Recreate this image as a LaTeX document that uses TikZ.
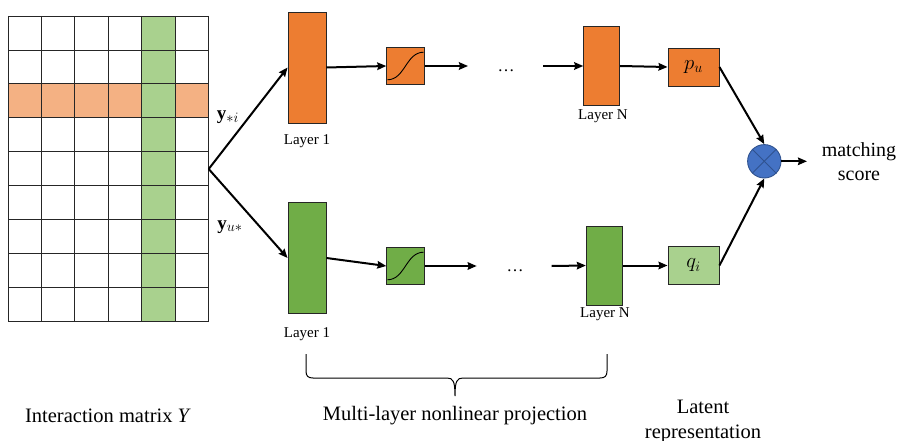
\documentclass[tikz,border=0pt]{standalone}
\usepackage{amsmath,amssymb}
\usepackage{fontspec}
\setmainfont{Liberation Serif}
\usepackage{xcolor}
\usetikzlibrary{arrows.meta,positioning,calc}

\definecolor{orgfill}{HTML}{ED7D31}
\definecolor{orglite}{HTML}{F4B183}
\definecolor{grnfill}{HTML}{70AD47}
\definecolor{grnlite}{HTML}{A9D18E}
\definecolor{bluefill}{HTML}{4472C4}
\definecolor{blueline}{HTML}{2F528F}

\begin{document}
\begin{tikzpicture}[x=1pt, y=-1pt,
  layer/.style={rectangle, draw=black!85, line width=0.9pt, minimum width=38pt, minimum height=111pt, inner sep=0pt},
  layerN/.style={layer, minimum width=36pt, minimum height=79pt},
  act/.style={rectangle, draw=black!85, line width=0.9pt, minimum size=37.5pt, inner sep=0pt},
  lat/.style={rectangle, draw=black!85, line width=0.9pt, minimum width=51pt, minimum height=38pt, inner sep=0pt, font=\fontsize{20}{24}\selectfont},
  lbl/.style={font=\fontsize{15}{18}\selectfont, inner sep=0pt},
  captxt/.style={font=\fontsize{20.5}{25}\selectfont, align=center, inner sep=0pt},
  vec/.style={font=\fontsize{19}{22}\selectfont, inner sep=0pt},
  flow/.style={-{Stealth[length=9pt,width=7.5pt,inset=1pt]}, line width=2pt},
  cellline/.style={line width=0.9pt, draw=black!85}
]
  \useasboundingbox (0,0) rectangle (900,441);

  % interaction matrix
  \fill[orglite] (8,83.9) rectangle (208.7,117.9);
  \fill[grnlite] (141.8,16) rectangle (175.3,321.7);
  \foreach \i in {0,...,6} \draw[cellline] (8+\i*33.45,16) -- (8+\i*33.45,321.7);
  \foreach \j in {0,...,9} \draw[cellline] (8,16+\j*33.97) -- (208.7,16+\j*33.97);
  \coordinate (Yout) at (208.7,169);

  % item tower (top)
  \node[layer, fill=orgfill] (oL1) at (307,67.5) {};
  \node[act, fill=orgfill] (oAct) at (405.5,66) {};
  \coordinate (oEnd) at (468,66);
  \node[font=\fontsize{17}{20}\selectfont, inner sep=0pt] (oDots) at (506,71) {\dots};
  \coordinate (oStart) at (543,66);
  \node[layerN, fill=orgfill] (oLN) at (601.7,66) {};
  \node[lat, fill=orgfill] (pu) at (693.5,67) {$p_u$};
  \node[lbl] at (307,141) {Layer 1};
  \node[lbl] at (603,116) {Layer N};

  % user tower (bottom)
  \node[layer, fill=grnfill] (gL1) at (307,258) {};
  \node[act, fill=grnfill] (gAct) at (405.5,266) {};
  \coordinate (gEnd) at (476.7,266);
  \node[font=\fontsize{17}{20}\selectfont, inner sep=0pt] (gDots) at (515,271) {\dots};
  \coordinate (gStart) at (551.7,266);
  \node[layerN, fill=grnfill] (gLN) at (604.3,265.5) {};
  \node[lat, fill=grnlite] (qi) at (693.5,265.5) {$q_i$};
  \node[lbl] at (307,334) {Layer 1};
  \node[lbl] at (605,314) {Layer N};

  % sigmoid curves
  \foreach \n in {oAct,gAct}
    \draw[line width=0.9pt] ([shift={(1,13.8)}]\n.west) to[out=0,in=180] ([shift={(-1,-13.8)}]\n.east);

  % product
  \node[circle, draw=blueline, line width=0.9pt, fill=bluefill, minimum size=33.4pt, inner sep=0pt] (mul) at (764.3,161.3) {};
  \draw[blueline, line width=0.9pt] (mul.north west) -- (mul.south east);
  \draw[blueline, line width=0.9pt] (mul.north east) -- (mul.south west);
  \coordinate (score) at (807,161.3);
  \node[captxt, font=\fontsize{20}{24}\selectfont] at (859,162) {matching\\score};

  % connectors
  \draw[flow] (Yout) -- (oL1.west);
  \draw[flow] (Yout) -- (gL1.west);
  \node[vec] at (228,117) {$\mathbf{y}_{*i}$};
  \node[vec] at (230,227) {$\mathbf{y}_{u*}$};
  \draw[flow] (oL1.east) -- (oAct.west);
  \draw[flow] (oAct.east) -- (oEnd);
  \draw[flow] (oStart) -- (oLN.west);
  \draw[flow] (oLN.east) -- (pu.west);
  \draw[flow] (gL1.east) -- (gAct.west);
  \draw[flow] (gAct.east) -- (gEnd);
  \draw[flow] (gStart) -- (gLN.west);
  \draw[flow] (gLN.east) -- (qi.west);
  \draw[flow] (pu.east) -- (mul.north);
  \draw[flow] (qi.east) -- (mul.south);
  \draw[flow] (mul.east) -- (score);

  % brace
  \draw[line width=1pt] (306,354) -- (306,371) .. controls (306,376) and (308,378) .. (313,378)
    -- (447,378) .. controls (453,378) and (455,381) .. (455,396)
    .. controls (455,381) and (457,378) .. (463,378)
    -- (600,378) .. controls (605,378) and (607,376) .. (607,371) -- (607,354);

  % captions
  \node[captxt] at (108,416) {Interaction matrix \textit{Y}};
  \node[captxt] at (455,416) {Multi-layer nonlinear projection};
  \node[captxt] at (703,421) {Latent\\representation};
\end{tikzpicture}
\end{document}
